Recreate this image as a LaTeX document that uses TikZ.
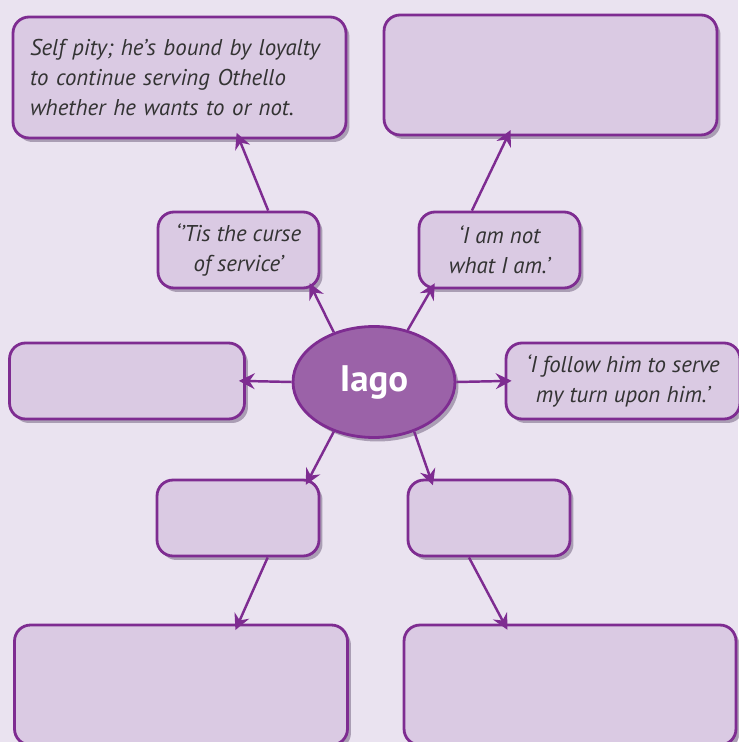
\documentclass[tikz,border=0pt]{standalone}
\usepackage{fontspec}
\setmainfont{PT Sans}
\usepackage{tikz}
\usetikzlibrary{
  arrows.meta,
  positioning,
  shapes.geometric,
  shadows
}
\usepackage{xcolor}
\definecolor{pagelilac}{HTML}{EAE3F0}
\definecolor{boxlilac}{HTML}{DACAE3}
\definecolor{plum}{HTML}{7E2C91}
\definecolor{iagopurple}{HTML}{9B62A8}
\definecolor{inkgray}{HTML}{333333}
\definecolor{shadowplum}{HTML}{5E4A6B}
\tikzset{
  card/.style={
    rectangle, draw=plum, fill=boxlilac, rounded corners=0.32cm,
    line width=1.6pt, text=inkgray,
    font=\fontsize{13}{16.8}\selectfont\itshape, align=center,
    drop shadow={shadow xshift=0.07cm, shadow yshift=-0.08cm,
      fill=shadowplum, opacity=0.45}
  },
  hub/.style={
    ellipse, draw=plum, fill=iagopurple, line width=1.6pt,
    minimum width=3.24cm, minimum height=2.22cm, inner sep=0pt,
    text=white, font=\fontsize{21}{24}\selectfont\bfseries,
    drop shadow={shadow xshift=0.07cm, shadow yshift=-0.08cm,
      fill=shadowplum, opacity=0.45}
  },
  arrow/.style={-{Stealth[length=9pt, width=9pt, inset=3pt]}, draw=plum,
    line width=1.4pt, shorten >=-4pt},
}

\begin{document}
\begin{tikzpicture}[x=0.02cm, y=-0.02cm]

\useasboundingbox (0,0) rectangle (738,742);
\fill[pagelilac] (0,0) rectangle (738,742);

% centre
\node[hub] (iago) at (374,382) {Iago};

% quotes next to the centre
\node[card, minimum width=3.22cm, minimum height=1.52cm] (curse) at (238.5,250) {‘’Tis the curse\\of service’};
\node[card, minimum width=3.22cm, minimum height=1.52cm] (notam) at (499.5,250) {‘I am not\\what I am.’};
\node[card, minimum width=4.7cm, minimum height=1.52cm] (leftbox) at (127,381) {};
\node[card, minimum width=4.68cm, minimum height=1.52cm] (follow) at (623,381) {‘I follow him to serve\\my turn upon him.’};
\node[card, minimum width=3.24cm, minimum height=1.52cm] (lowleft) at (238,518) {};
\node[card, minimum width=3.24cm, minimum height=1.52cm] (lowright) at (489,518) {};

% outer boxes
\node[card, minimum width=6.66cm, minimum height=2.42cm, text width=5.98cm,
  inner xsep=0.34cm, align=left] (pity) at (179.5,77.5)
  {Self pity; he’s bound by loyalty\\to continue serving Othello\\whether he wants to or not.};
\node[card, minimum width=6.66cm, minimum height=2.4cm] (topbox) at (550.5,75) {};
\node[card, minimum width=6.66cm, minimum height=2.4cm] (baseleft) at (181,685) {};
\node[card, minimum width=6.64cm, minimum height=2.4cm] (baseright) at (570,685) {};

\draw[arrow] (iago.129) -- (curse.-28);
\draw[arrow] (iago.57) -- (notam.-150);
\draw[arrow] (iago.west) -- (leftbox.east);
\draw[arrow] (iago.east) -- (follow.west);
\draw[arrow] (iago.-129) -- (lowleft.29);
\draw[arrow] (iago.-51) -- (lowright.146);

\draw[arrow] (curse.53) -- (pity.-46);
\draw[arrow] (notam.125) -- (topbox.-125);
\draw[arrow] (lowleft.-53) -- (baseleft.47.5);
\draw[arrow] (lowright.-117) -- (baseright.137.3);

\end{tikzpicture}
\end{document}
